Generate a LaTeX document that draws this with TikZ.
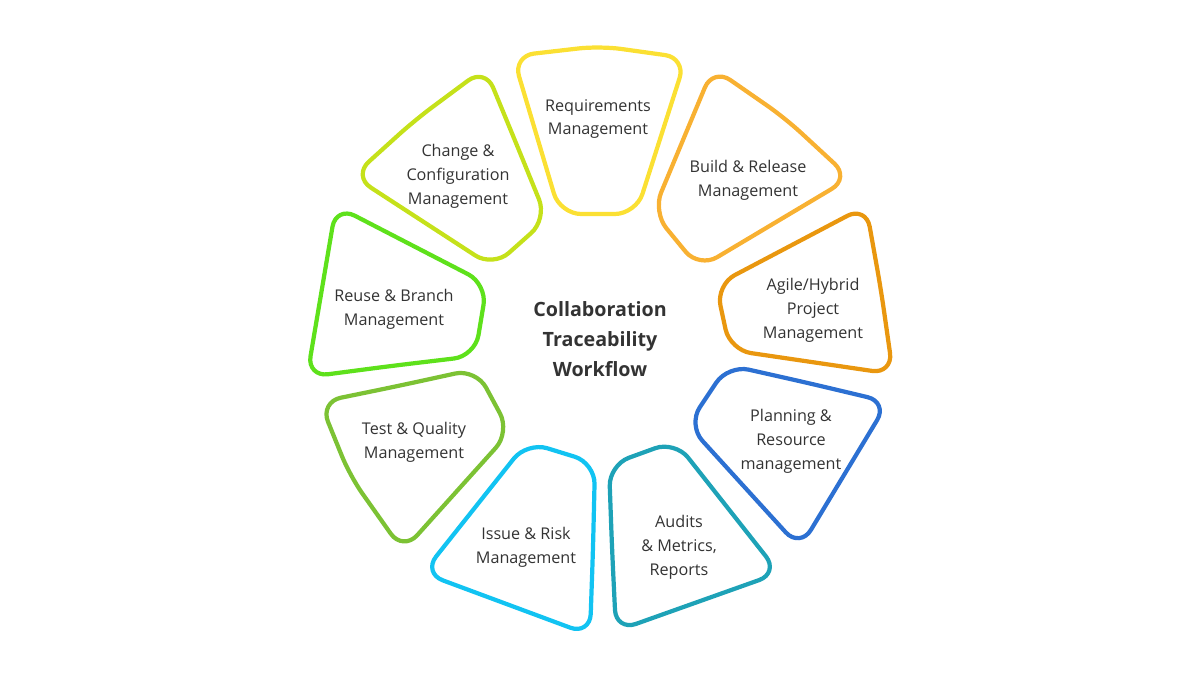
\documentclass[tikz,border=0pt]{standalone}
\usepackage{fontspec}
\setmainfont{Open Sans}
\usepackage{tikz}
\usetikzlibrary{positioning,calc}
\definecolor{cReq}{HTML}{FBE033}
\definecolor{cBuild}{HTML}{F8B132}
\definecolor{cAgile}{HTML}{E9970F}
\definecolor{cPlan}{HTML}{2C70D2}
\definecolor{cAudit}{HTML}{1EA2B7}
\definecolor{cIssue}{HTML}{12C3F2}
\definecolor{cTest}{HTML}{7CC234}
\definecolor{cReuse}{HTML}{5EE11B}
\definecolor{cChange}{HTML}{C5E11A}
\definecolor{txt}{HTML}{333333}

\begin{document}
\begin{tikzpicture}[x=0.025cm,y=-0.025cm,every node/.style={align=center,text=txt,font=\fontsize{11.5}{17}\selectfont},petal/.style={line width=3pt,rounded corners=15pt,line join=round}]
\useasboundingbox (0,0) rectangle (1200,675);
\draw[petal,cReq] (600,46) -- (686,58) -- (636,214) -- (560,214) -- (513,56) -- cycle;
\draw[petal,cBuild] (785,118) -- (850,178) -- (699,268) -- (653,212) -- (713,68) -- cycle;
\draw[petal,cAgile] (881,290) -- (893,374) -- (730,350) -- (716,285) -- (866,206) -- cycle;
\draw[petal,cPlan] (808,383) -- (888,402) -- (800,548) -- (688,425) -- (728,365) -- cycle;
\draw[petal,cAudit] (612,548) -- (609,465) -- (675,441) -- (779,573) -- (616,631) -- cycle;
\draw[petal,cIssue] (593,549) -- (590,635) -- (423,573) -- (527,442) -- (595,463) -- cycle;
\draw[petal,cTest] (398,386) -- (476,369) -- (510,432) -- (403,551) -- (350,476) -- (320,402) -- cycle;
\draw[petal,cReuse] (391,366) -- (307,377) -- (336,206) -- (487,284) -- (475,356) -- cycle;
\draw[petal,cChange] (516,143) -- (485,68) -- (415,120) -- (353,176) -- (493,267) -- (547,219) -- cycle;
\node (req) at (598,119) {Requirements\\Management};
\node (build) at (748,180) {Build \& Release\\Management};
\node (agile) at (813,310) {Agile/Hybrid\\Project\\Management};
\node (plan) at (791,441) {Planning \&\\Resource\\management};
\node (audit) at (679,547) {Audits\\\& Metrics,\\Reports};
\node (issue) at (526,547) {Issue \& Risk\\Management};
\node (test) at (414,442) {Test \& Quality\\Management};
\node (reuse) at (394,309) {Reuse \& Branch\\Management};
\node (change) at (458,176) {Change \&\\Configuration\\Management};
%\node (hub) at (600,335) {};
\node[font=\bfseries\fontsize{14}{21.3}\selectfont] (title) at (600,339) {Collaboration\\Traceability\\Workflow};
\end{tikzpicture}
\end{document}
